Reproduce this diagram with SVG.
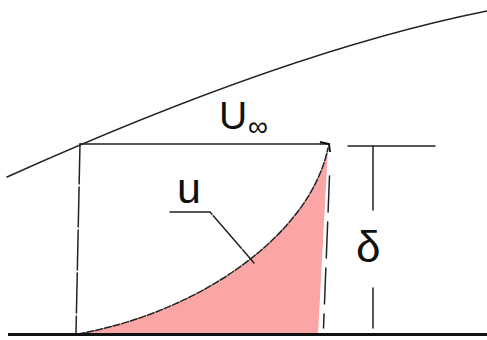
<svg xmlns="http://www.w3.org/2000/svg" width="487" height="340" viewBox="0 0 487 340">
<style>
.ln{fill:none;stroke:#222;stroke-width:1.5;stroke-linecap:round}
.th{fill:none;stroke:#111;stroke-width:3}
.lbl{font-family:"Liberation Sans",Arial,sans-serif;fill:#111}
</style>
<rect width="487" height="340" fill="#fff"/>
<g id="profile">
<path d="M78,334 C200,312 310,235 328,148 L318,334 Z" fill="#fba6a6"/>
<path d="M78,334 C200,312 310,235 328,148" class="ln" stroke-dasharray="7 2" stroke-width="1.3"/>
</g>
<g id="connectors">
<path d="M7,177 Q287,51 487,11" class="ln" stroke-width="1.6"/>
<line x1="80" y1="144" x2="76" y2="333" class="ln" stroke-dasharray="40 3"/>
<line x1="80" y1="144" x2="329" y2="144" class="ln"/>
<path d="M320,142 L329,144 L330,152" fill="none" stroke="#111" stroke-width="2"/>
<line x1="329.5" y1="176" x2="323.5" y2="328" class="ln" stroke-dasharray="36 10"/>
<line x1="348" y1="146" x2="435" y2="146" class="ln"/>
<line x1="373" y1="146" x2="373" y2="210" class="ln"/>
<line x1="373" y1="288" x2="373" y2="328" class="ln"/>
<path d="M170,212 L210,212 L254,263" class="ln" stroke-dasharray="40 0 3 2"/>
<line x1="8" y1="334.5" x2="487" y2="334.5" class="th"/>
</g>
<g id="label-Uinf">
<text x="219" y="129" class="lbl" font-size="39">U</text>
<text x="248" y="136" class="lbl" font-size="28">∞</text>
</g>
<g id="label-u">
<text x="177" y="203" class="lbl" font-size="43">u</text>
</g>
<g id="label-delta">
<text x="356" y="262" class="lbl" font-size="44">δ</text>
</g>
</svg>
